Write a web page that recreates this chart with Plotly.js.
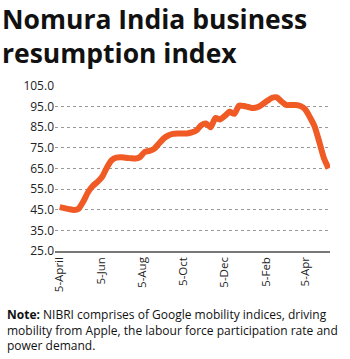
<!DOCTYPE html>
<html><head><meta charset="utf-8">
<script src="https://cdn.plot.ly/plotly-3.0.1.min.js"></script>
<style>body{margin:0;background:#fff}#c{width:350px;height:359px}</style>
</head><body><div id="c"></div>
<script>
const startDate = '2020-04-05';
const nibri = [46.3,45.8,45.3,44.9,45.5,49,53.5,56.5,58.5,61,65.5,69,70.3,70.5,70.2,70,69.8,70.5,73,73.5,74.5,77,79.5,81,81.8,82,82,82,82.5,83.5,86,86.8,85,89.5,88.8,90.5,92.5,91.5,95.5,95.3,94.8,94.3,94.8,96.2,97.8,99.3,99.5,97.5,95.8,95.8,95.8,95.3,93.8,90,85.5,78,70,65];
const tickDates = ['2020-04-05','2020-06-05','2020-08-05','2020-10-05','2020-12-05','2021-02-05','2021-04-05'];
const tickLabels = ['5-April','5-Jun','5-Aug','5-Oct','5-Dec','5-Feb','5-Apr'];
const yTicks = [25,35,45,55,65,75,85,95,105];

const dates = nibri.map((v,i)=>{const d=new Date(startDate+'T00:00:00Z');d.setUTCDate(d.getUTCDate()+7*i);return d.toISOString().slice(0,10);});

const trace = {x:dates,y:nibri,type:'scatter',mode:'lines',line:{color:'#F05A24',width:6,shape:'spline',smoothing:0.6},hoverinfo:'none'};
const font = "'Open Sans', Arial, sans-serif";
const layout = {
  width:350,height:359,
  margin:{l:55,r:20,t:86,b:108},
  paper_bgcolor:'#fff',plot_bgcolor:'#fff',
  showlegend:false,
  xaxis:{type:'date',range:['2020-03-29','2021-05-11'],tickvals:tickDates,ticktext:tickLabels,tickangle:-90,
    tickfont:{family:font,size:11.5,color:'#222'},showgrid:false,showline:true,linecolor:'#777',linewidth:1.5,ticks:'',zeroline:false},
  yaxis:{range:[25,105],tickvals:yTicks,ticktext:yTicks.map(v=>v.toFixed(1)),tickfont:{family:font,size:12,color:'#222'},
    showgrid:true,gridcolor:'#999',griddash:'dot',gridwidth:1,zeroline:false,ticks:'',showline:false},
  annotations:[
    {xref:'paper',yref:'paper',x:-55/275,y:1,yshift:87,xanchor:'left',yanchor:'top',align:'left',showarrow:false,
     text:'<b>Nomura India business<br>resumption index</b>',font:{family:font,size:26.5,color:'#111'}},
    {xref:'paper',yref:'paper',x:-50/275,y:0,yshift:-53,xanchor:'left',yanchor:'top',align:'left',showarrow:false,
     text:'<b>Note:</b> NIBRI comprises of Google mobility indices, driving<br>mobility from Apple, the labour force participation rate and<br>power demand.',
     font:{family:font,size:12,color:'#111'}}
  ]
};
Plotly.newPlot('c',[trace],layout,{staticPlot:true,displayModeBar:false});
</script></body></html>
